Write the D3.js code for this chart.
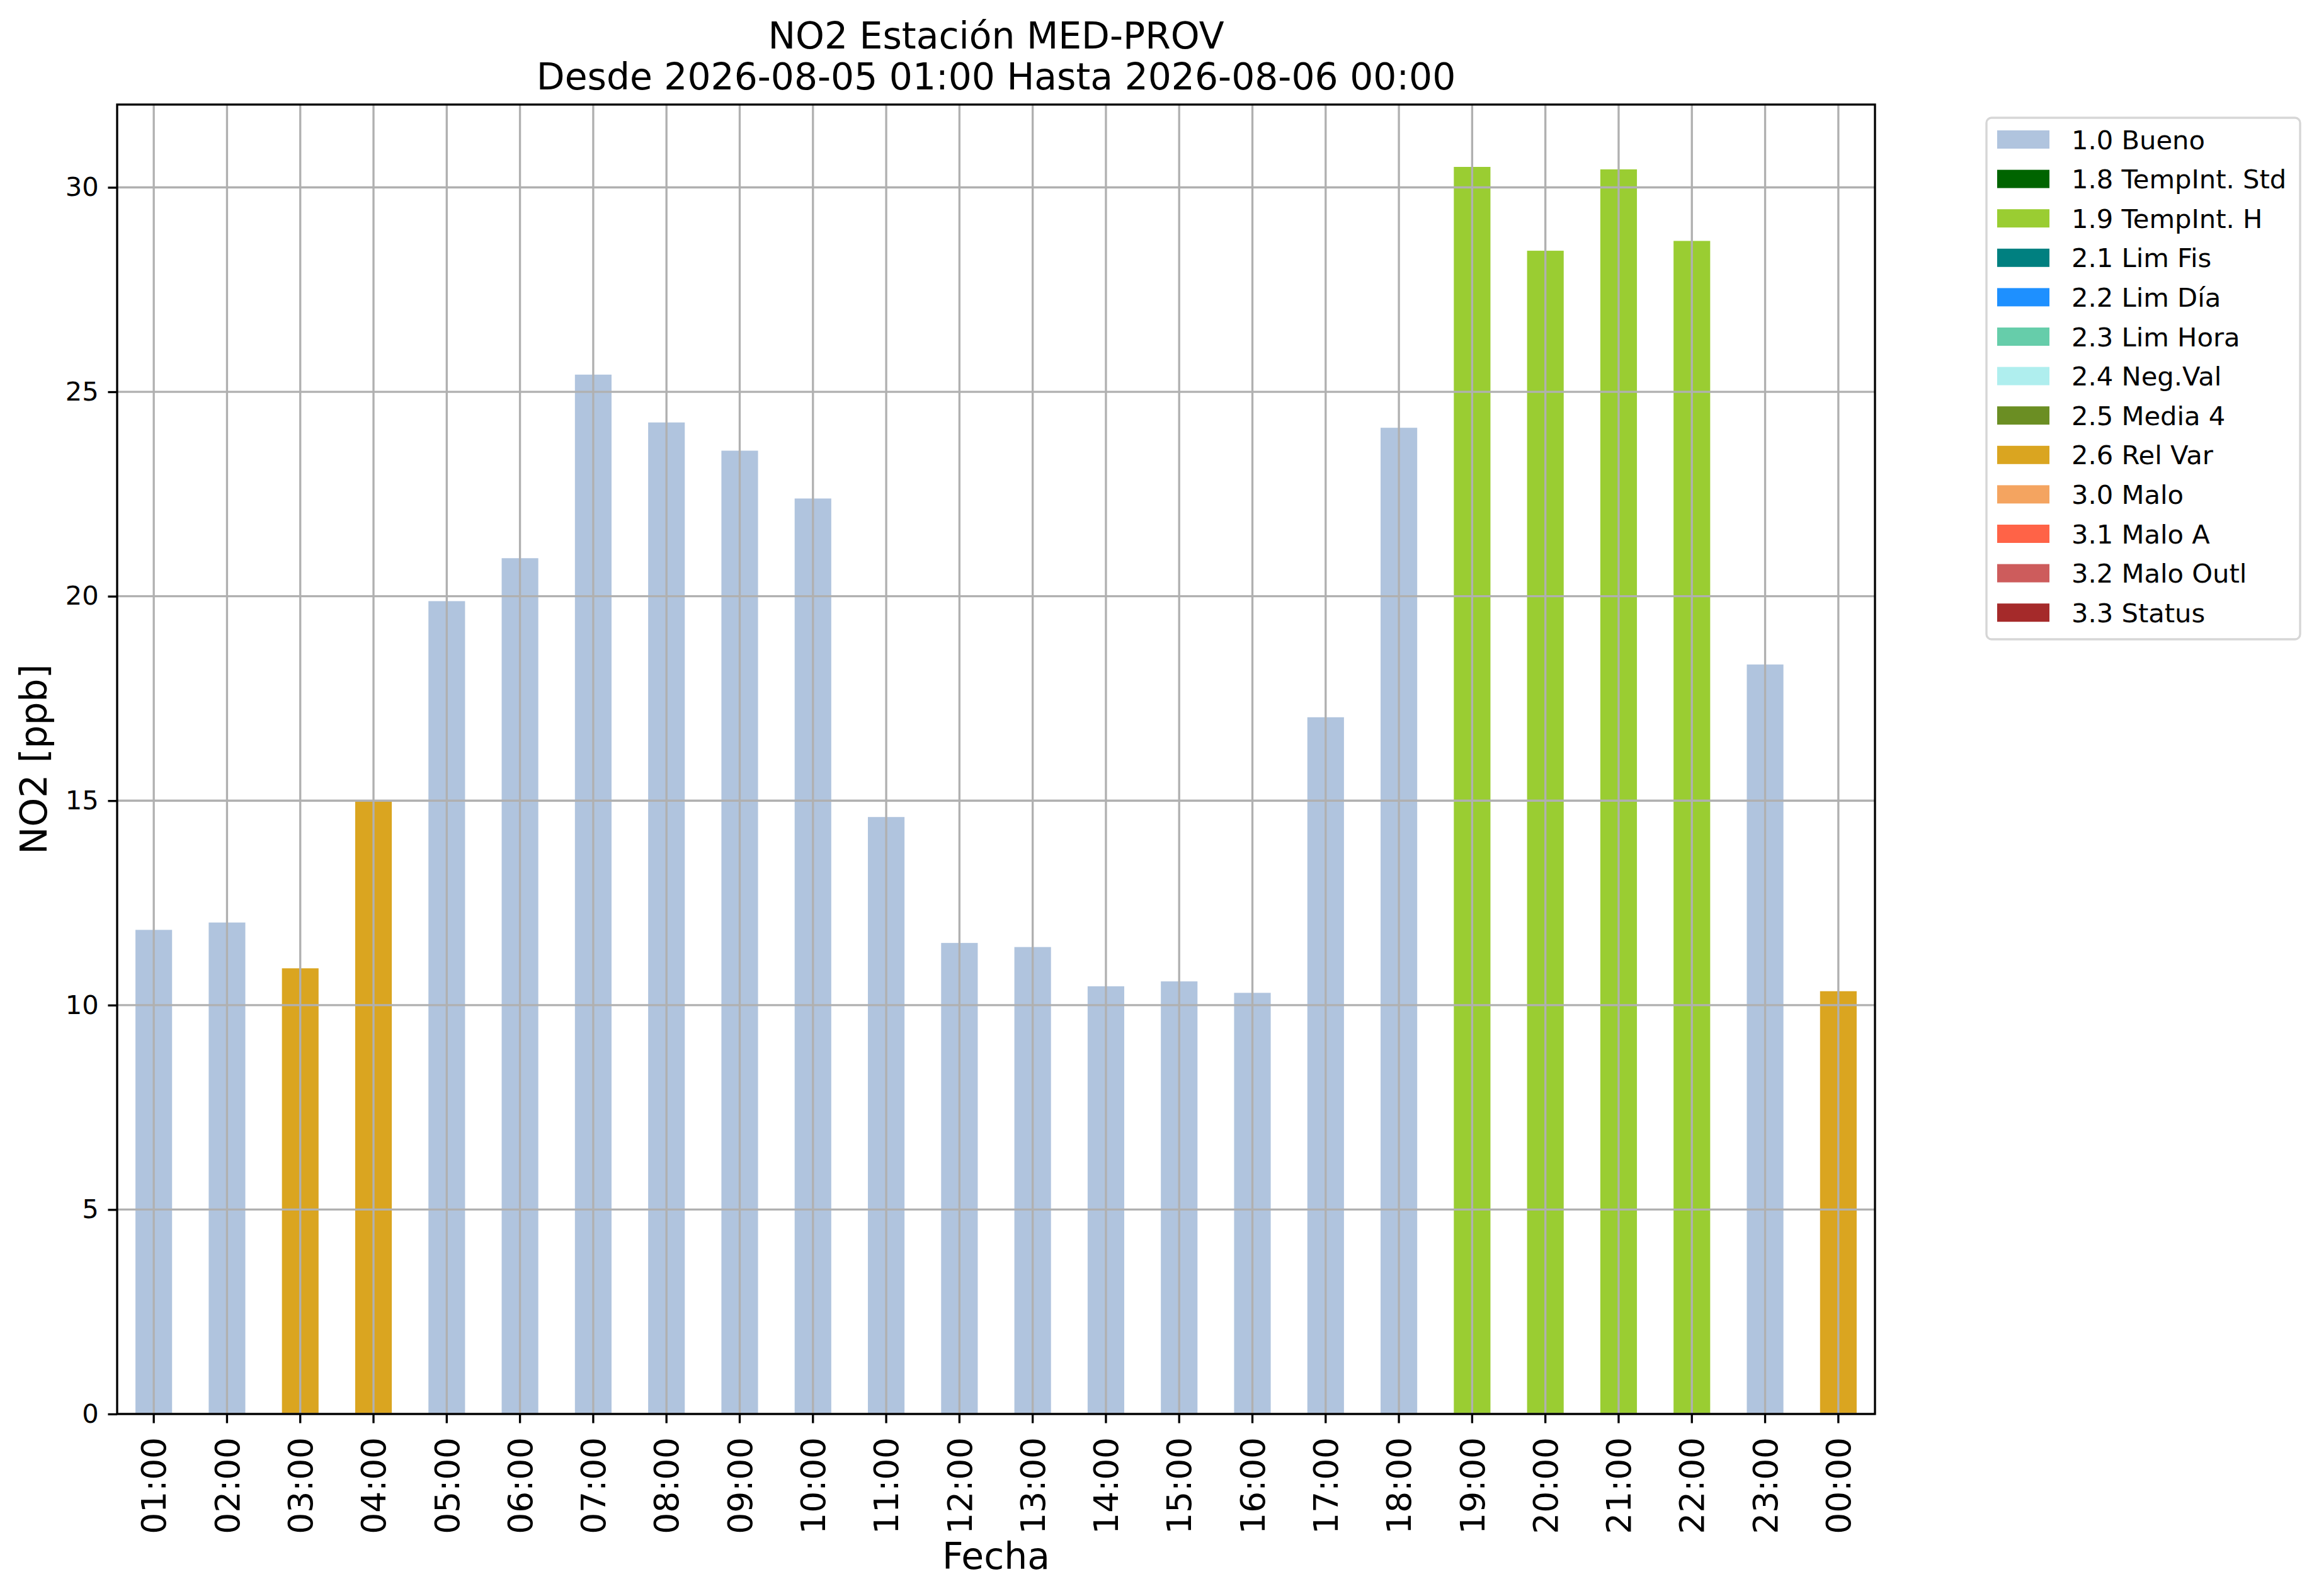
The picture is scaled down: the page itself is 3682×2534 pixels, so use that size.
<!DOCTYPE html>
<html>
<head>
<meta charset="utf-8">
<script src="https://cdn.jsdelivr.net/npm/d3@7/dist/d3.min.js"></script>
<style>
  body { margin: 0; background: #fff; }
  svg { display: block; font-family: "DejaVu Sans", sans-serif; }
</style>
</head>
<body>
<div id="chart"></div>
<script>
const hours = ['01:00', '02:00', '03:00', '04:00', '05:00', '06:00', '07:00', '08:00',
  '09:00', '10:00', '11:00', '12:00', '13:00', '14:00', '15:00', '16:00',
  '17:00', '18:00', '19:00', '20:00', '21:00', '22:00', '23:00', '00:00'];
const values = [11.84, 12.02, 10.90, 14.99, 19.88, 20.93, 25.42, 24.25,
  23.56, 22.39, 14.60, 11.52, 11.42, 10.46, 10.58, 10.30,
  17.04, 24.12, 30.50, 28.45, 30.44, 28.69, 18.33, 10.34];
const flags = ['1.0', '1.0', '2.6', '2.6', '1.0', '1.0', '1.0', '1.0',
  '1.0', '1.0', '1.0', '1.0', '1.0', '1.0', '1.0', '1.0',
  '1.0', '1.0', '1.9', '1.9', '1.9', '1.9', '1.0', '2.6'];

const legendCodes = ['1.0', '1.8', '1.9', '2.1', '2.2', '2.3', '2.4', '2.5', '2.6', '3.0', '3.1', '3.2', '3.3'];
const legendNames = ['Bueno', 'TempInt. Std', 'TempInt. H', 'Lim Fis', 'Lim Día', 'Lim Hora',
  'Neg.Val', 'Media 4', 'Rel Var', 'Malo', 'Malo A', 'Malo Outl', 'Status'];
const legendColors = ['#b0c4de', '#006400', '#9acd32', '#008080', '#1e90ff', '#66cdaa',
  '#afeeee', '#6b8e23', '#daa520', '#f4a460', '#ff6347', '#cd5c5c', '#a52a2a'];
const yTicks = [0, 5, 10, 15, 20, 25, 30];

const width = 3682;
const height = 2534;
const m = { left: 186, right: 2977, top: 166, bottom: 2245 };
const pt = 300 / 72; // figure was 300 dpi

let color = d3.scaleOrdinal().domain(legendCodes).range(legendColors);

let x = d3.scaleBand().domain(hours).range([m.left, m.right]).paddingInner(0.5).paddingOuter(0.25);
let y = d3.scaleLinear().domain([0, d3.max(values) * 1.05]).range([m.bottom, m.top]);

let svg = d3.select('#chart')
  .append('svg')
  .attr('width', width)
  .attr('height', height);

// Bars.
svg.append('g')
  .selectAll('rect')
  .data(hours)
  .enter()
  .append('rect')
    .attr('x', d => x(d))
    .attr('y', (d, i) => y(values[i]))
    .attr('width', x.bandwidth())
    .attr('height', (d, i) => m.bottom - y(values[i]))
    .attr('fill', (d, i) => color(flags[i]));

// Grid, drawn over the bars like matplotlib does.
let grid = svg.append('g')
  .attr('stroke', '#b0b0b0')
  .attr('stroke-width', 0.8 * pt);

grid.selectAll('line.v')
  .data(hours)
  .enter()
  .append('line')
    .attr('x1', d => x(d) + x.bandwidth() / 2)
    .attr('x2', d => x(d) + x.bandwidth() / 2)
    .attr('y1', m.top)
    .attr('y2', m.bottom);

grid.selectAll('line.h')
  .data(yTicks)
  .enter()
  .append('line')
    .attr('x1', m.left)
    .attr('x2', m.right)
    .attr('y1', d => y(d))
    .attr('y2', d => y(d));

// Axes.
let xAxis = d3.axisBottom(x)
  .tickSize(3.5 * pt)
  .tickSizeOuter(0)
  .tickPadding(3.5 * pt);

let yAxis = d3.axisLeft(y)
  .tickValues(yTicks)
  .tickSize(3.5 * pt)
  .tickSizeOuter(0)
  .tickPadding(3.5 * pt)
  .tickFormat(d3.format('d'));

let gx = svg.append('g')
  .attr('transform', `translate(0,${m.bottom})`)
  .call(xAxis);

gx.selectAll('text')
  .attr('transform', 'rotate(-90)')
  .attr('x', -37)
  .attr('y', 0)
  .attr('dy', '0.36em')
  .style('text-anchor', 'end')
  .style('font-size', `${12.8 * pt}px`)
  .attr('fill', '#000');

let gy = svg.append('g')
  .attr('transform', `translate(${m.left},0)`)
  .call(yAxis);

gy.selectAll('text')
  .style('font-size', `${10 * pt}px`)
  .attr('fill', '#000');

svg.selectAll('.domain').remove();
svg.selectAll('.tick line')
  .attr('stroke', '#000')
  .attr('stroke-width', 0.8 * pt);
svg.selectAll('.tick text').style('font-family', '"DejaVu Sans", sans-serif');

// Frame.
svg.append('rect')
  .attr('x', m.left)
  .attr('y', m.top)
  .attr('width', m.right - m.left)
  .attr('height', m.bottom - m.top)
  .attr('fill', 'none')
  .attr('stroke', '#000')
  .attr('stroke-width', 0.8 * pt);

// Titles and labels.
let title = svg.append('text')
  .attr('text-anchor', 'middle')
  .style('font-size', `${14 * pt}px`);
title.append('tspan').attr('x', (m.left + m.right) / 2).attr('y', 77).text('NO2 Estación MED-PROV');
title.append('tspan').attr('x', (m.left + m.right) / 2).attr('y', 142).text('Desde 2026-08-05 01:00 Hasta 2026-08-06 00:00');

svg.append('text')
  .attr('x', (m.left + m.right) / 2)
  .attr('y', 2491)
  .attr('text-anchor', 'middle')
  .style('font-size', `${14 * pt}px`)
  .text('Fecha');

svg.append('text')
  .attr('transform', `translate(74,${(m.top + m.bottom) / 2}) rotate(-90)`)
  .attr('text-anchor', 'middle')
  .style('font-size', `${14 * pt}px`)
  .text('NO2 [ppb]');

// Legend.
const lx = 3154, ly = 187, rowH = 62.6;

let legend = svg.append('g');

legend.append('rect')
  .attr('x', lx)
  .attr('y', ly)
  .attr('width', 498)
  .attr('height', 828)
  .attr('rx', 8)
  .attr('fill', '#fff')
  .attr('stroke', '#d6d6d6')
  .attr('stroke-width', 0.8 * pt);

let rows = legend.selectAll('g.row')
  .data(legendCodes)
  .enter()
  .append('g')
    .attr('transform', (d, i) => `translate(0,${ly + 34.5 + i * rowH})`);

rows.append('rect')
  .attr('x', 3171)
  .attr('y', -14.5)
  .attr('width', 83)
  .attr('height', 29)
  .attr('fill', d => color(d));

rows.append('text')
  .attr('x', 3289)
  .attr('y', 0)
  .attr('dy', '0.36em')
  .style('font-size', `${10 * pt}px`)
  .text((d, i) => `${d} ${legendNames[i]}`);
</script>
</body>
</html>
